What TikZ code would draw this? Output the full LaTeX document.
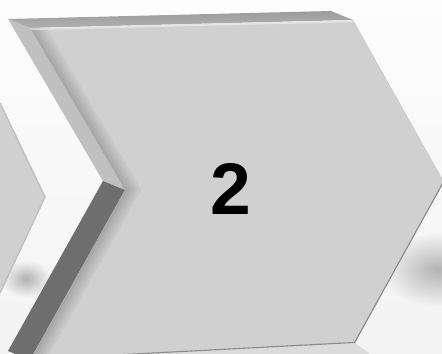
\documentclass[tikz,border=0pt]{standalone}
\usepackage{fontspec}
\setsansfont{Liberation Sans}
\usepackage{tikz}
\usetikzlibrary{calc}
\definecolor{facegray}{RGB}{208,208,208}
\definecolor{topgray}{RGB}{156,156,156}
\definecolor{bevelgray}{RGB}{192,192,192}
\definecolor{sidegray}{RGB}{110,110,110}
\definecolor{paperwhite}{RGB}{253,253,253}
\definecolor{paperlow}{RGB}{243,243,243}

\begin{document}
\begin{tikzpicture}[
    x=0.025cm, y=-0.025cm,
    frontface/.style={fill=facegray},
    topface/.style={top color=topgray, bottom color=topgray!80!white},
    upperside/.style={fill=bevelgray},
    lowerside/.style={fill=sidegray},
    castshadow/.style={inner color=black!30, outer color=paperlow},
    numlabel/.style={font=\sffamily\bfseries\fontsize{52}{52}\selectfont, inner sep=0pt, text=black}
]
\useasboundingbox (0,0) rectangle (442,354);
\clip (0,0) rectangle (442,354);
\shade[top color=paperwhite, bottom color=paperlow] (0,0) rectangle (442,354);

% front outline of the chevron, back outline is shifted up-left
\coordinate (fa) at (30,28);
\coordinate (fb) at (353,20);
\coordinate (fc) at (444,182);
\coordinate (fd) at (355,343);
\coordinate (fe) at (30,360);
\coordinate (ff) at (125,190);
\foreach \p in {a,b,e,f}
  \coordinate (b\p) at ($(f\p)+(-22,-9)$);

% soft shadows on the paper
\shade[castshadow] (438,270) ellipse (56 and 36);
\shade[castshadow] (26,279) ellipse (24 and 18);

% previous chevron, cut by the left border
\fill[facegray] (-10,103) -- (0,103) -- (45,197) -- (0,293) -- (-10,293) -- cycle;
\draw[black!25, line width=1pt] (0,103) -- (45,197) -- (0,293);

% reflection under the bottom edge
\fill[black!14] (fd) -- (370,354) -- (140,354) -- cycle;

% visible sides
\shade[topface] (ba) -- (bb) -- (fb) -- (fa) -- cycle;
\fill[upperside] (ba) -- (fa) -- (ff) -- (bf) -- cycle;
\fill[lowerside] (bf) -- (ff) -- (fe) -- (be) -- cycle;

% front face with soft inner shading along the left edges
\fill[frontface] (fa) -- (fb) -- (fc) -- (fd) -- (fe) -- (ff) -- cycle;
\begin{scope}
  \clip (fa) -- (fb) -- (fc) -- (fd) -- (fe) -- (ff) -- cycle;
  \foreach \w in {4,8,12,16,20}
    \draw[black, opacity=0.04, line width=\w pt] (fa) -- (ff) -- (fe);
  \draw[white, opacity=0.45, line width=3pt] (fa) -- (fb);
  \draw[black!45, line width=1.6pt] (fc) -- (fd) -- (fe);
  \draw[black!20, line width=1pt] (fb) -- (fc);
\end{scope}

\node[numlabel] (num) at (231,189) {2};

\end{tikzpicture}
\end{document}
